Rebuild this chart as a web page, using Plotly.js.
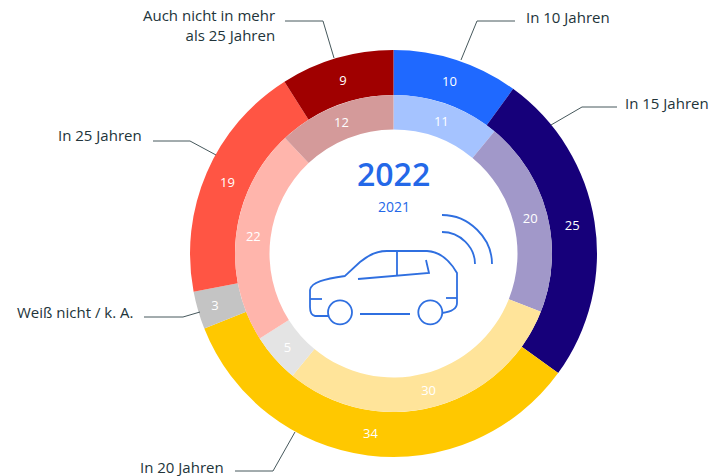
<!DOCTYPE html>
<html><head><meta charset="utf-8">
<script src="https://cdn.plot.ly/plotly-3.0.1.min.js"></script>
<style>html,body{margin:0;padding:0;background:#fff}</style></head>
<body><div id="chart" style="width:709px;height:476px"></div>
<script>
const categories = ["In 10 Jahren","In 15 Jahren","In 20 Jahren","Weiß nicht / k. A.","In 25 Jahren","Auch nicht in mehr als 25 Jahren"];
const values2022 = [10,25,34,3,19,9];
const values2021 = [11,20,30,5,22,12];
const colors2022 = ["#1F69FF","#16007A","#FFC800","#C4C4C4","#FF5544","#A00000"];
const colors2021 = ["#A5C3FF","#A198C9","#FFE49A","#E4E4E4","#FFB5AC","#D49A9A"];

const W=709,H=476,cx=393.5,cy=253.5,R1=203.5,R2=158.5,R3=124;
const fx=x=>x/W, fy=y=>1-y/H;
const dom=r=>({x:[fx(cx-r),fx(cx+r)],y:[fy(cy+r),fy(cy-r)]});
const font='"Open Sans","Noto Sans",sans-serif';
const pie=(vals,cols,r,hole)=>({type:'pie',values:vals,labels:categories,sort:false,direction:'clockwise',rotation:0,
  domain:dom(r),hole:hole,marker:{colors:cols,line:{width:0}},textinfo:'value',textposition:'inside',
  insidetextorientation:'horizontal',insidetextfont:{color:'#fff',size:13,family:font,weight:500},showlegend:false,hoverinfo:'label+value'});
const data=[pie(values2022,colors2022,R1,R2/R1),pie(values2021,colors2021,R2,R3/R2)];

const P=(s)=>s.replace(/(-?[\d.]+),(-?[\d.]+)/g,(m,a,b)=>fx(+a).toFixed(5)+','+fy(+b).toFixed(5));
const lineShape=(s,color,w)=>({type:'path',xref:'paper',yref:'paper',path:P(s),line:{color:color,width:w},fillcolor:'rgba(0,0,0,0)'});
const lc='#46585C',bl='#2F6FE0';
const leaders=["M285,21 L323,21 L334,58","M153,141 L190,141 L216,155","M144,317 L183,317 L200,312","M235,471 L273,471 L295,432","M515,21 L477,21 L461,60","M617,107 L582,107 L551,125"];
const car=[
 "M328,316 L315,316 Q310,315 310,307 L310,290 C311,282 325,279 345,276 L360,262 Q373,251 387,251 L427,251 Q445,252 457,273 L457,303 Q457,311 442,313",
 "M358,279 L429,273 L426,260","M397,251 L397,276","M310,299 L322,299","M446,298 L457,298","M360,314 L410,314",
 "M442,215 C469,215 492,238 492,264","M442,232 C460,232 475,247 475,264"];
const circle=(x,y,r)=>({type:'circle',xref:'paper',yref:'paper',x0:fx(x-r),x1:fx(x+r),y0:fy(y+r),y1:fy(y-r),line:{color:bl,width:1.8}});
const shapes=[...leaders.map(s=>lineShape(s,lc,1)),...car.map(s=>lineShape(s,bl,1.8)),circle(340,312.3,12),circle(430.3,312.3,12)];

const ann=(t,x,y,anchor,size,color,weight)=>({text:t,xref:'paper',yref:'paper',x:fx(x),y:fy(y),xanchor:anchor,yanchor:'middle',showarrow:false,align:anchor,
  font:{family:font,size:size,color:color,weight:weight||500}});
const tc='#22343A';
const annotations=[
 ann('Auch nicht in mehr<br>als 25 Jahren',277,25,'right',15,tc),
 ann('In 10 Jahren',524,17,'left',15,tc),
 ann('In 15 Jahren',623,103,'left',15,tc),
 ann('In 25 Jahren',144,135,'right',15,tc),
 ann('Weiß nicht / k. A.',135,312,'right',15,tc),
 ann('In 20 Jahren',226,467,'right',15,tc),
 ann('2022',393.5,173,'center',32,'#2468E8',600),
 ann('2021',393.5,206,'center',14,'#2468E8',500)];

Plotly.newPlot('chart',data,{width:W,height:H,margin:{l:0,r:0,t:0,b:0},paper_bgcolor:'#fff',shapes,annotations,showlegend:false},{displayModeBar:false});
</script></body></html>
